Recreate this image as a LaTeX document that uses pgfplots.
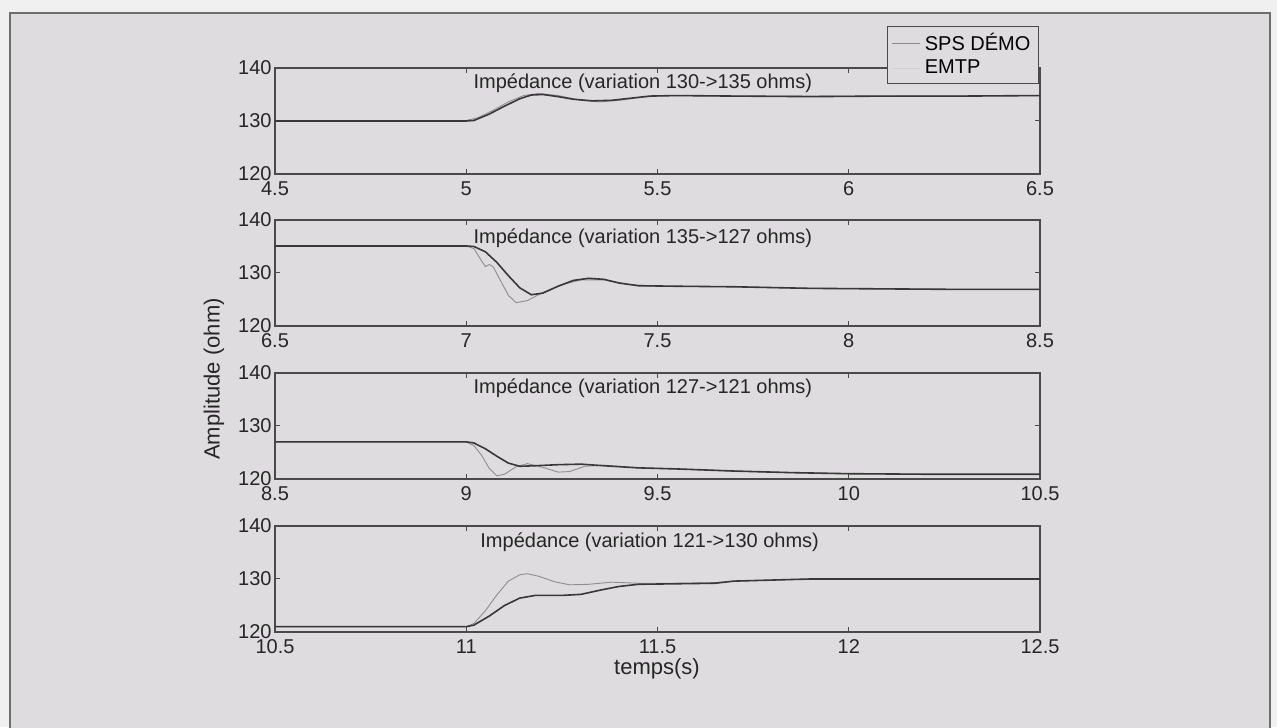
\documentclass[border=0pt]{standalone}
\usepackage{fontspec}
\setmainfont{Liberation Sans}
\usepackage{pgfplots}
\pgfplotsset{compat=1.18}

\definecolor{bgc}{HTML}{DEDCDE}
\definecolor{outc}{HTML}{F1F0F1}
\definecolor{axc}{HTML}{4A4A4A}
\definecolor{spsc}{HTML}{383838}
\definecolor{emtpc}{HTML}{8E8E8E}
\definecolor{legsps}{HTML}{8A8A8A}
\definecolor{legemtp}{HTML}{D2D0D2}

\newcommand{\fs}{\fontsize{10}{12}\selectfont}

\pgfplotsset{
  sub/.style={
    scale only axis, width=382.5pt, height=53pt,
    ymin=120, ymax=140, ytick={120,130,140},
    tick align=inside, major tick length=2.5pt,
    axis line style={axc, line width=0.6pt},
    every tick/.style={axc, line width=0.5pt},
    tick label style={font=\fs, text=black!85},
    /pgf/number format/assume math mode=true,
    xticklabel style={inner sep=1pt, yshift=-2.5pt},
    yticklabel style={inner sep=1.5pt},
  },
  sps/.style={color=spsc, line width=0.8pt, forget plot},
  emtp/.style={color=emtpc, line width=0.45pt, forget plot},
}

\begin{document}
\begin{tikzpicture}
\useasboundingbox (0,0) rectangle (638.5pt,363.5pt);
\fill[outc] (0,0) rectangle (638.5pt,363.5pt);
\fill[bgc] (5pt,-2pt) rectangle (635pt,357pt);
\draw[axc!80, line width=0.8pt] (5pt,-2pt) -- (5pt,357pt) -- (635pt,357pt) -- (635pt,-2pt);

% panel 1
\begin{axis}[sub, at={(137.5pt,329.5pt)}, anchor=north west,
    xmin=4.5, xmax=6.5, xtick={4.5,5,5.5,6,6.5},
    legend style={at={(0.9987,1.396)}, anchor=north east, draw=axc, fill=bgc,
      line width=0.6pt, font=\fs, inner xsep=2pt, inner ysep=1.5pt,
      row sep=-1pt, cells={anchor=west}},
    legend image code/.code={\draw[#1] (0pt,0pt) -- (14pt,0pt);}]
\addlegendimage{color=legsps, line width=0.6pt}
\addlegendentry{SPS DÉMO}
\addlegendimage{color=legemtp, line width=0.4pt}
\addlegendentry{EMTP}
\addplot[emtp] coordinates {(4.5,130.1) (5.0,130.1) (5.03,130.6) (5.07,132) (5.11,133.6) (5.15,134.8) (5.19,135.2) (5.24,134.8) (5.30,133.9) (5.35,133.6) (5.40,133.9) (5.46,134.5) (5.52,134.8) (5.7,134.7) (6.0,134.7) (6.5,134.8)};
\addplot[sps] coordinates {(4.5,130) (5.0,130) (5.02,130.1) (5.06,131.3) (5.10,132.8) (5.14,134.2) (5.17,134.9) (5.20,135.0) (5.24,134.6) (5.28,134.1) (5.33,133.8) (5.38,133.9) (5.43,134.3) (5.48,134.7) (5.55,134.8) (5.7,134.7) (5.9,134.6) (6.1,134.7) (6.3,134.7) (6.5,134.8)};
\node[anchor=west, font=\fs, text=black!85, inner sep=0pt] at (rel axis cs:0.259,0.86) {Impédance (variation 130->135 ohms)};
\end{axis}

% panel 2
\begin{axis}[sub, at={(137.5pt,253.5pt)}, anchor=north west,
    xmin=6.5, xmax=8.5, xtick={6.5,7,7.5,8,8.5}]
\addplot[emtp] coordinates {(6.5,135.1) (7.0,135.1) (7.02,134.6) (7.04,132.3) (7.05,131.2) (7.06,131.6) (7.07,131.2) (7.09,128.5) (7.11,125.8) (7.13,124.4) (7.16,124.8) (7.20,126.3) (7.25,127.8) (7.30,128.7) (7.36,128.7) (7.42,127.9) (7.48,127.5) (7.55,127.5) (7.7,127.4) (7.9,127.1) (8.1,127.0) (8.3,126.9) (8.5,126.9)};
\addplot[sps] coordinates {(6.5,135.1) (7.0,135.1) (7.02,135) (7.05,134) (7.08,132) (7.11,129.5) (7.14,127.2) (7.17,125.9) (7.20,126.2) (7.24,127.5) (7.28,128.6) (7.32,129.0) (7.36,128.8) (7.40,128.1) (7.45,127.6) (7.55,127.5) (7.7,127.4) (7.9,127.1) (8.1,127.0) (8.3,126.9) (8.5,126.9)};
\node[anchor=west, font=\fs, text=black!85, inner sep=0pt] at (rel axis cs:0.259,0.83) {Impédance (variation 135->127 ohms)};
\end{axis}

% panel 3
\begin{axis}[sub, at={(137.5pt,177pt)}, anchor=north west,
    xmin=8.5, xmax=10.5, xtick={8.5,9,9.5,10,10.5}]
\addplot[emtp] coordinates {(8.5,127) (9.0,127) (9.02,126.3) (9.04,124.5) (9.06,122) (9.08,120.6) (9.10,120.9) (9.13,122.3) (9.16,122.9) (9.20,122.2) (9.24,121.3) (9.27,121.4) (9.31,122.4) (9.36,122.6) (9.45,122.1) (9.55,121.9) (9.7,121.5) (9.85,121.2) (10.0,121.0) (10.2,120.9) (10.5,120.9)};
\addplot[sps] coordinates {(8.5,127) (9.0,127) (9.02,126.8) (9.05,125.7) (9.08,124.3) (9.11,123.0) (9.14,122.4) (9.18,122.5) (9.24,122.7) (9.30,122.8) (9.36,122.5) (9.45,122.1) (9.55,121.9) (9.7,121.5) (9.85,121.2) (10.0,121.0) (10.2,120.9) (10.5,120.9)};
\node[anchor=west, font=\fs, text=black!85, inner sep=0pt] at (rel axis cs:0.259,0.86) {Impédance (variation 127->121 ohms)};
\end{axis}

% panel 4
\begin{axis}[sub, at={(137.5pt,100.5pt)}, anchor=north west,
    xmin=10.5, xmax=12.5, xtick={10.5,11,11.5,12,12.5}]
\addplot[emtp] coordinates {(10.5,121) (11.0,121) (11.02,121.6) (11.05,124.0) (11.08,127.0) (11.11,129.6) (11.14,130.8) (11.16,131.0) (11.19,130.5) (11.23,129.5) (11.27,128.9) (11.32,129.0) (11.38,129.4) (11.45,129.2) (11.55,129.2) (11.65,129.3) (11.70,129.6) (11.8,129.8) (11.9,130) (12.5,130)};
\addplot[sps] coordinates {(10.5,121) (11.0,121) (11.02,121.3) (11.06,123.0) (11.10,125.0) (11.14,126.4) (11.18,126.9) (11.25,126.9) (11.30,127.1) (11.35,127.9) (11.40,128.6) (11.45,129.0) (11.55,129.1) (11.65,129.2) (11.70,129.6) (11.8,129.8) (11.9,130) (12.5,130)};
\node[anchor=west, font=\fs, text=black!85, inner sep=0pt] at (rel axis cs:0.268,0.85) {Impédance (variation 121->130 ohms)};
\end{axis}

\node[rotate=90, font=\fontsize{11}{13}\selectfont, text=black!85] at (107pt,174pt) {Amplitude (ohm)};
\node[font=\fontsize{11}{13}\selectfont, text=black!85] at (328.5pt,29pt) {temps(s)};
\end{tikzpicture}
\end{document}
